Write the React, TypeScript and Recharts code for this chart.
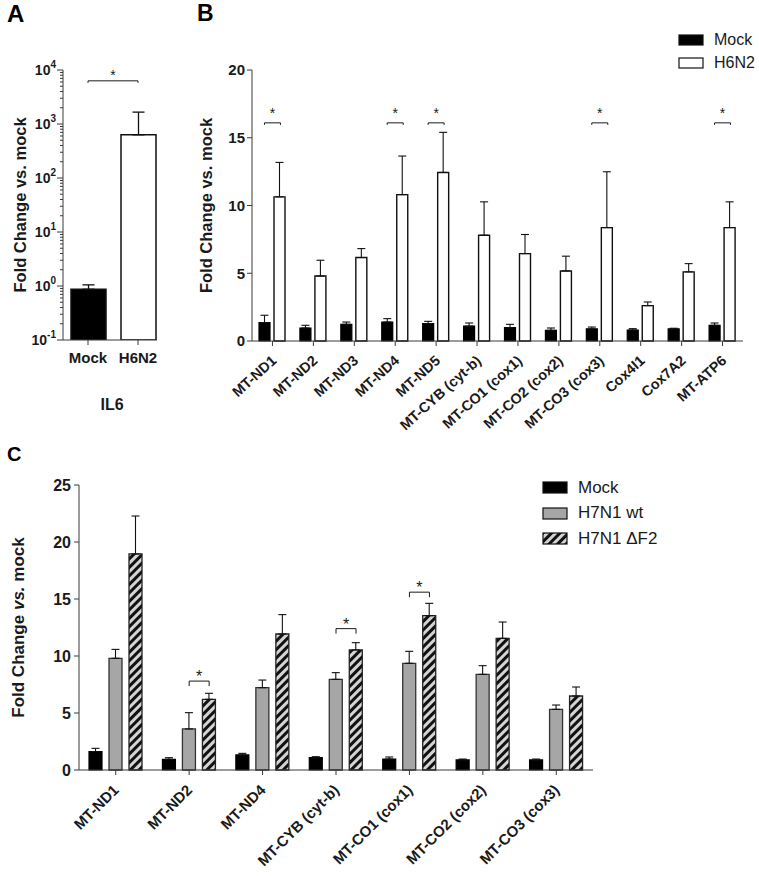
import React from 'react';
import { BarChart, Bar, Cell, XAxis, YAxis, ErrorBar, ReferenceDot, ReferenceLine, Label } from 'recharts';

const FONT = '"Liberation Sans", Arial, Helvetica, sans-serif';
const AXIS = '#3a3a3a';
const INK = '#1a1a1a';

// panel A: IL6, log scale
const ilGroups = ['Mock', 'H6N2'];
const ilMean = [0.87, 630];
const ilSem = [0.18, 1030];
const ilDecades = [0.1, 1, 10, 100, 1000, 10000];
const ilSigLevel = 6300;

// panel B: H6N2
const bGenes = [
  'MT-ND1', 'MT-ND2', 'MT-ND3', 'MT-ND4', 'MT-ND5', 'MT-CYB (cyt-b)',
  'MT-CO1 (cox1)', 'MT-CO2 (cox2)', 'MT-CO3 (cox3)', 'Cox4I1', 'Cox7A2', 'MT-ATP6',
];
const bMock = [1.35, 0.96, 1.23, 1.4, 1.28, 1.1, 0.98, 0.79, 0.89, 0.81, 0.89, 1.16];
const bMockSem = [0.55, 0.2, 0.17, 0.25, 0.17, 0.23, 0.25, 0.17, 0.14, 0.1, 0.05, 0.17];
const bH6N2 = [10.64, 4.8, 6.16, 10.8, 12.44, 7.8, 6.45, 5.17, 8.37, 2.61, 5.1, 8.37];
const bH6N2Sem = [2.54, 1.16, 0.66, 2.85, 2.96, 2.47, 1.41, 1.09, 4.12, 0.27, 0.61, 1.9];
const bSigGenes = ['MT-ND1', 'MT-ND4', 'MT-ND5', 'MT-CO3 (cox3)', 'MT-ATP6'];
const bSigLevel = 16.1;
const bTicks = [0, 5, 10, 15, 20];

// panel C: H7N1 wt vs dF2
const cGenes = [
  'MT-ND1', 'MT-ND2', 'MT-ND4', 'MT-CYB (cyt-b)', 'MT-CO1 (cox1)', 'MT-CO2 (cox2)', 'MT-CO3 (cox3)',
];
const cMock = [1.61, 0.94, 1.32, 1.08, 0.96, 0.88, 0.88];
const cMockSem = [0.29, 0.14, 0.14, 0.09, 0.18, 0.08, 0.08];
const cWt = [9.8, 3.6, 7.22, 7.95, 9.36, 8.39, 5.32];
const cWtSem = [0.78, 1.43, 0.67, 0.59, 1.05, 0.76, 0.38];
const cDf2 = [18.95, 6.2, 11.93, 10.53, 13.54, 11.55, 6.49];
const cDf2Sem = [3.33, 0.53, 1.7, 0.64, 1.08, 1.43, 0.79];
const cSigGenes = ['MT-ND2', 'MT-CYB (cyt-b)', 'MT-CO1 (cox1)'];
const cSigLevels = [7.8, 12.4, 15.6];
const cTicks = [0, 5, 10, 15, 20, 25];

const ilData = ilGroups.map((name, i) => ({ name, value: ilMean[i], err: [0, ilSem[i]] }));
const bData = bGenes.map((name, i) => ({
  name,
  mock: bMock[i],
  mockErr: [0, bMockSem[i]],
  h6n2: bH6N2[i],
  h6n2Err: [0, bH6N2Sem[i]],
}));
const cData = cGenes.map((name, i) => ({
  name,
  mock: cMock[i],
  mockErr: [0, cMockSem[i]],
  wt: cWt[i],
  wtErr: [0, cWtSem[i]],
  df2: cDf2[i],
  df2Err: [0, cDf2Sem[i]],
}));

// log axis: major decades + minor ticks 2..9
const ilTicks: number[] = [];
ilDecades.slice(0, -1).forEach((d) => {
  for (let k = 1; k < 10; k++) ilTicks.push(+(d * k).toPrecision(3));
});
ilTicks.push(ilDecades[ilDecades.length - 1]);

const LogTick = (p: any) => {
  const { x, y, payload } = p;
  const e = Math.log10(payload.value);
  const major = Math.abs(e - Math.round(e)) < 1e-6;
  return (
    <g>
      <line x1={x - (major ? 6 : 3)} x2={x} y1={y} y2={y} stroke={AXIS} strokeWidth={1} />
      {major && (
        <text x={x - 7} y={y + 5} textAnchor="end" fontSize={14} fontWeight="bold" fill={INK} fontFamily={FONT}>
          <tspan>10</tspan>
          <tspan dy={-7} fontSize={10}>{Math.round(e)}</tspan>
        </text>
      )}
    </g>
  );
};

const angledTick = (dx: number, dy: number, fs: number, angle: number) => (p: any) => (
  <g transform={`translate(${p.x + dx},${p.y + dy})`}>
    <text textAnchor="end" transform={`rotate(${angle})`} fontSize={fs} fontWeight="bold" fill={INK} fontFamily={FONT}>
      {p.payload.value}
    </text>
  </g>
);

const yTitle = (offset: number, italicVs: boolean, fs: number) => (p: any) => {
  const vb = p.viewBox;
  const cx = vb.x + offset;
  const cy = vb.y + vb.height / 2;
  return (
    <text
      x={cx}
      y={cy}
      transform={`rotate(-90 ${cx} ${cy})`}
      textAnchor="middle"
      dominantBaseline="central"
      fontSize={fs}
      fontWeight="bold"
      fill={INK}
      fontFamily={FONT}
    >
      Fold Change{' '}
      <tspan fontStyle={italicVs ? 'italic' : 'normal'}>vs.</tspan>
      {' '}mock
    </text>
  );
};

const sigShape = (x0: number, x1: number, drop: number, fs: number, starDy: number) => (p: any) => (
  <g>
    <path
      d={`M${p.cx + x0},${p.cy + drop}V${p.cy}H${p.cx + x1}V${p.cy + drop}`}
      fill="none"
      stroke={INK}
      strokeWidth={1}
    />
    <text x={p.cx + (x0 + x1) / 2} y={p.cy + starDy} textAnchor="middle" fontSize={fs} fill={INK} fontFamily={FONT}>
      *
    </text>
  </g>
);

// bracket end ticks + star for the segment line of panel A
const ilSigLabel = (p: any) => {
  const vb = p.viewBox;
  const x0 = vb.x;
  const x1 = vb.x + vb.width;
  const y = vb.y;
  return (
    <g>
      <path d={`M${x0},${y + 2}V${y}M${x1},${y + 2}V${y}`} stroke={INK} strokeWidth={1} fill="none" />
      <text x={(x0 + x1) / 2} y={y - 1} textAnchor="middle" fontSize={14} fill={INK} fontFamily={FONT}>
        *
      </text>
    </g>
  );
};

const tickStyle = { fontSize: 15, fontWeight: 'bold', fill: INK, fontFamily: FONT };

function Swatch({ fill, w, h, hatch }: { fill: string; w: number; h: number; hatch?: boolean }) {
  return (
    <svg width={w + 2} height={h + 2} style={{ display: 'block' }}>
      {hatch && (
        <defs>
          <pattern id="hatchLegend" width={6} height={6} patternUnits="userSpaceOnUse" patternTransform="rotate(45)">
            <rect width={6} height={6} fill="#d4d4d4" />
            <rect width={3} height={6} fill="#111" />
          </pattern>
        </defs>
      )}
      <rect x={1} y={1} width={w} height={h} fill={hatch ? 'url(#hatchLegend)' : fill} stroke="#111" strokeWidth={1.2} />
    </svg>
  );
}

function LegendRows({ items, left, top, rowH, fs, w, h }: any) {
  return (
    <div style={{ position: 'absolute', left, top, fontFamily: FONT, fontSize: fs, color: INK }}>
      {items.map((it: any) => (
        <div key={it.label} style={{ display: 'flex', alignItems: 'center', height: rowH }}>
          <Swatch fill={it.fill} w={w} h={h} hatch={it.hatch} />
          <span style={{ marginLeft: 10, whiteSpace: 'nowrap' }}>{it.label}</span>
        </div>
      ))}
    </div>
  );
}

const panelLetter = (t: string, left: number, top: number, fs: number) => (
  <div style={{ position: 'absolute', left, top, fontFamily: FONT, fontWeight: 'bold', fontSize: fs, lineHeight: 1, color: '#000' }}>
    {t}
  </div>
);

export default function App() {
  return (
    <div style={{ position: 'absolute', left: 0, top: 0, width: 759, height: 876, background: '#fff', overflow: 'hidden' }}>
      {panelLetter('A', 7, 2, 24)}
      {panelLetter('B', 197, 2, 23)}
      {panelLetter('C', 7, 444, 20)}

      {/* A */}
      <div style={{ position: 'absolute', left: 0, top: 0 }}>
        <BarChart width={170} height={420} data={ilData} margin={{ top: 70, right: 13, bottom: 8, left: 8 }} barSize={35}>
          <XAxis
            dataKey="name"
            height={72}
            padding={{ left: 0, right: -6 }}
            stroke={AXIS}
            tickSize={5}
            tickMargin={2}
            interval={0}
            tick={(p: any) => (
              <text x={p.x} y={p.y + 16} textAnchor="middle" fontSize={15} fontWeight="bold" fill={INK} fontFamily={FONT}>
                {p.payload.value}
              </text>
            )}
          >
            <Label
              content={(p: any) => (
                <text
                  x={p.viewBox.x + p.viewBox.width / 2 + 2}
                  y={p.viewBox.y + p.viewBox.height - 2}
                  textAnchor="middle"
                  fontSize={16}
                  fontWeight="bold"
                  fill={INK}
                  fontFamily={FONT}
                >
                  IL6
                </text>
              )}
            />
          </XAxis>
          <YAxis
            scale="log"
            domain={[0.1, 10000]}
            allowDataOverflow
            ticks={ilTicks}
            interval={0}
            width={55}
            stroke={AXIS}
            tickLine={false}
            tickSize={0}
            tickMargin={0}
            tick={LogTick}
          >
            <Label content={yTitle(12, false, 16.5)} />
          </YAxis>
          <Bar dataKey="value" isAnimationActive={false} stroke="#111" strokeWidth={1.5}>
            {ilData.map((d, i) => (
              <Cell key={d.name} fill={i === 0 ? '#000' : '#fff'} />
            ))}
            <ErrorBar dataKey="err" width={6} stroke="#111" strokeWidth={1.3} direction="y" />
          </Bar>
          <ReferenceLine
            segment={[{ x: ilGroups[0], y: ilSigLevel }, { x: ilGroups[1], y: ilSigLevel }]}
            stroke={INK}
            strokeWidth={1}
            label={ilSigLabel}
          />
        </BarChart>
      </div>

      {/* B */}
      <div style={{ position: 'absolute', left: 170, top: 0 }}>
        <BarChart width={589} height={440} data={bData} margin={{ top: 70, right: 16, bottom: 0, left: 22 }} barSize={11} barGap={4}>
          <XAxis dataKey="name" height={99} stroke={AXIS} tickSize={5} tickMargin={2} interval={0} tick={angledTick(5, 14, 14.4, -42)} />
          <YAxis domain={[0, 20]} ticks={bTicks} width={60} stroke={AXIS} tickSize={5} tickMargin={2} tick={tickStyle}>
            <Label content={yTitle(14, false, 16.5)} />
          </YAxis>
          <Bar dataKey="mock" isAnimationActive={false} fill="#000" stroke="#000" strokeWidth={1.2}>
            <ErrorBar dataKey="mockErr" width={4} stroke="#111" strokeWidth={1.1} direction="y" />
          </Bar>
          <Bar dataKey="h6n2" isAnimationActive={false} fill="#fff" stroke="#111" strokeWidth={1.4}>
            <ErrorBar dataKey="h6n2Err" width={4} stroke="#111" strokeWidth={1.1} direction="y" />
          </Bar>
          {bSigGenes.map((g) => (
            <ReferenceDot key={g} x={g} y={bSigLevel} r={0} shape={sigShape(-8, 8, 2, 14, -5)} />
          ))}
        </BarChart>
      </div>
      <LegendRows
        left={678}
        top={28.5}
        rowH={23}
        fs={16}
        w={24}
        h={10}
        items={[
          { label: 'Mock', fill: '#000' },
          { label: 'H6N2', fill: '#fff' },
        ]}
      />

      {/* C */}
      <div style={{ position: 'absolute', left: 0, top: 440 }}>
        <BarChart width={759} height={436} data={cData} margin={{ top: 45, right: 166, bottom: 0, left: 19 }} barSize={13} barGap={7}>
          <defs>
            <pattern id="hatchC" width={6} height={6} patternUnits="userSpaceOnUse" patternTransform="rotate(45)">
              <rect width={6} height={6} fill="#d4d4d4" />
              <rect width={3} height={6} fill="#111" />
            </pattern>
          </defs>
          <XAxis dataKey="name" height={106} stroke={AXIS} tickSize={5} tickMargin={2} interval={0} tick={angledTick(4, 14, 15, -45)} />
          <YAxis domain={[0, 25]} ticks={cTicks} width={60} stroke={AXIS} tickSize={5} tickMargin={3} tick={{ ...tickStyle, fontSize: 16 }}>
            <Label content={yTitle(-1, true, 17)} />
          </YAxis>
          <Bar dataKey="mock" isAnimationActive={false} fill="#000" stroke="#000" strokeWidth={1.2}>
            <ErrorBar dataKey="mockErr" width={4} stroke="#111" strokeWidth={1.1} direction="y" />
          </Bar>
          <Bar dataKey="wt" isAnimationActive={false} fill="#a6a6a6" stroke="#333" strokeWidth={1.3}>
            <ErrorBar dataKey="wtErr" width={4} stroke="#111" strokeWidth={1.1} direction="y" />
          </Bar>
          <Bar dataKey="df2" isAnimationActive={false} fill="url(#hatchC)" stroke="#222" strokeWidth={1.3}>
            <ErrorBar dataKey="df2Err" width={4} stroke="#111" strokeWidth={1.1} direction="y" />
          </Bar>
          {cSigGenes.map((g, i) => (
            <ReferenceDot key={g} x={g} y={cSigLevels[i]} r={0} shape={sigShape(0, 20, 5, 16, 1)} />
          ))}
        </BarChart>
      </div>
      <LegendRows
        left={542}
        top={474.75}
        rowH={25.5}
        fs={17}
        w={24}
        h={11}
        items={[
          { label: 'Mock', fill: '#000' },
          { label: 'H7N1 wt', fill: '#a6a6a6' },
          { label: 'H7N1 \u0394F2', fill: '', hatch: true },
        ]}
      />
    </div>
  );
}
